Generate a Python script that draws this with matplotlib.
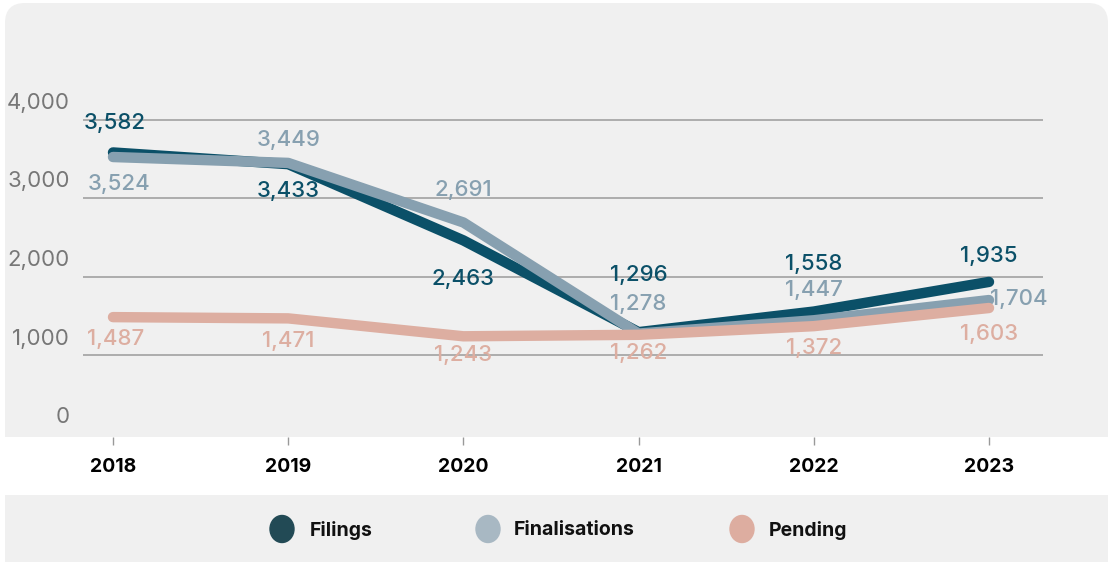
import matplotlib.pyplot as plt
from matplotlib.patches import Ellipse, FancyBboxPatch, Rectangle
from matplotlib.transforms import blended_transform_factory

plt.rcParams['font.family'] = ['Inter', 'DejaVu Sans']

years = [2018, 2019, 2020, 2021, 2022, 2023]
filings = [3582, 3433, 2463, 1296, 1558, 1935]
finalisations = [3524, 3449, 2691, 1278, 1447, 1704]
pending = [1487, 1471, 1243, 1262, 1372, 1603]
y_ticks = [0, 1000, 2000, 3000, 4000]

series = [
    ("Filings", filings, "#0b5068", "#224a55"),
    ("Finalisations", finalisations, "#87a0b0", "#a8b8c3"),
    ("Pending", pending, "#ddaea1", "#ddada0"),
]
# label offsets in pixels (dx, dy), y up
offsets = {
    "Filings": [(2, 29), (0, -27), (0, -39), (0, 57), (0, 48), (0, 26)],
    "Finalisations": [(6, -27), (0, 23), (0, 32), (0, 30), (0, 30), (30, 1)],
    "Pending": [(3, -22), (0, -23), (0, -19), (0, -18), (0, -22), (0, -26)],
}

W, H = 1110, 564
fig = plt.figure(figsize=(W / 100, H / 100), dpi=100)

# main panel background, rounded top corners only
fig.patches.append(FancyBboxPatch((5 / W, (H - 437) / H), 1103 / W, 434 / H,
                                  boxstyle="round,pad=0,rounding_size=0.018",
                                  transform=fig.transFigure, fc="#f0f0f0",
                                  ec="none", zorder=-10,
                                  mutation_aspect=W / H))
fig.patches.append(Rectangle((5 / W, (H - 437) / H), 1103 / W, 200 / H,
                             transform=fig.transFigure, fc="#f0f0f0",
                             ec="none", zorder=-10))

ax = fig.add_axes([5 / W, (H - 437) / H, 1103 / W, 434 / H])
ax.patch.set_visible(False)
px_per_year = 175.2
ax.set_xlim(2018 - 108 / px_per_year, 2023 + 119 / px_per_year)
ax.set_ylim(-3 / 0.0786, 431 / 0.0786)

for v in y_ticks[1:]:
    ax.hlines(v, 2018 - 30 / px_per_year, 2023 + 54 / px_per_year,
              color="#9a9a9a", lw=1.1, zorder=1)

trans = blended_transform_factory(fig.transFigure, ax.transData)
for v in y_ticks:
    ax.text(70 / W, v + 215, f"{v:,}", transform=trans, ha="right",
            va="center", fontsize=16, color="#777777")

for name, vals, col, _ in series:
    ax.plot(years, vals, color=col, lw=7.5, solid_capstyle="round",
            solid_joinstyle="round", zorder=2)
    for x, v, (dx, dy) in zip(years, vals, offsets[name]):
        ax.annotate(f"{v:,}", (x, v), xytext=(dx * 0.72, dy * 0.72),
                    textcoords="offset points", ha="center", va="center",
                    fontsize=16, fontweight="medium", color=col, zorder=3)

ax.set_yticks([])
ax.set_xticks(years)
ax.set_xticklabels([str(y) for y in years], fontsize=14, fontweight="bold")
ax.tick_params(axis="x", length=6, width=1, color="#999999", pad=9)
for s in ax.spines.values():
    s.set_visible(False)

# legend panel
lax = fig.add_axes([5 / W, (H - 562) / H, 1103 / W, 67 / H])
lax.set_facecolor("#f0f0f0")
lax.set_xlim(5, 1108)
lax.set_ylim(0, 67)
lax.set_xticks([])
lax.set_yticks([])
for s in lax.spines.values():
    s.set_visible(False)
for (name, _, _, mcol), cx, tx in zip(series, [282, 488, 742], [310, 514, 769]):
    lax.add_patch(Ellipse((cx, 33), 24, 27, color=mcol))
    lax.text(tx, 34, name, ha="left", va="center_baseline", fontsize=14,
             fontweight="bold", color="#111111")

fig.savefig("out.png", dpi=100)
